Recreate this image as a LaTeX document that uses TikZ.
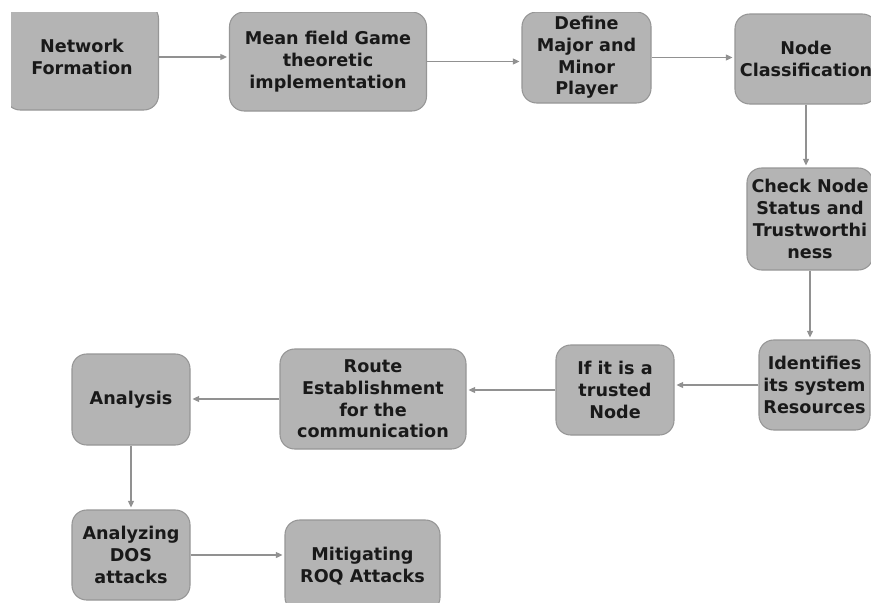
\documentclass[tikz,border=0pt]{standalone}
\usepackage{fontspec}
\setmainfont{DejaVu Sans}
\usetikzlibrary{arrows.meta}
\definecolor{BoxGray}{RGB}{180,180,180}
\definecolor{EdgeGray}{RGB}{150,150,150}
\definecolor{FlowGray}{RGB}{145,145,145}
\definecolor{InkGray}{RGB}{25,25,25}
\tikzset{
  stage/.style={draw=EdgeGray,fill=BoxGray,rounded corners=11pt,line width=0.8pt,
    inner sep=0pt,align=center,text=InkGray,
    font=\fontsize{13.2}{16.3}\selectfont\bfseries},
  flow/.style={draw=FlowGray,line width=1pt,shorten >=1.5pt,
    -{Triangle[length=5pt,width=4.5pt]}},
}

\begin{document}
\begin{tikzpicture}[x=0.75pt,y=-0.75pt]
\fill[white] (0,0) rectangle (871,603);
\clip (11,12) rectangle (871,603);
% top row
\node[stage,minimum width=114.75pt,minimum height=79.5pt] (netform) at (82,57) {Network\\Formation};
\node[stage,minimum width=147.75pt,minimum height=74.25pt] (meanfield) at (328,61.5) {Mean field Game\\theoretic\\implementation};
\node[stage,minimum width=96.75pt,minimum height=68.25pt] (define) at (586.5,57.5) {Define\\Major and\\Minor\\Player};
\node[stage,minimum width=106.5pt,minimum height=67.5pt] (nodeclass) at (806,59) {Node\\Classification};
% right column
\node[stage,minimum width=94.5pt,minimum height=76.5pt] (check) at (810,219) {Check Node\\Status and\\Trustworthi\\ness};
\node[stage,minimum width=83.25pt,minimum height=67.5pt] (ident) at (814.5,385) {Identifies\\its system\\Resources};
% middle row
\node[stage,minimum width=88.5pt,minimum height=67.5pt] (trusted) at (615,390) {If it is a\\trusted\\Node};
\node[stage,minimum width=139.5pt,minimum height=75pt] (route) at (373,399) {Route\\Establishment\\for the\\communication};
\node[stage,minimum width=88.5pt,minimum height=68.25pt] (analysis) at (131,399.5) {Analysis};
% bottom row
\node[stage,minimum width=88.5pt,minimum height=67.5pt] (dos) at (131,555) {Analyzing\\DOS\\attacks};
\node[stage,minimum width=116.25pt,minimum height=69pt] (mitig) at (362.5,566) {Mitigating\\ROQ Attacks};
% connectors
\draw[flow] (netform.east) -- (netform.east -| meanfield.west);
\draw[flow] (meanfield.east) -- (meanfield.east -| define.west);
\draw[flow] (define.east) -- (define.east -| nodeclass.west);
\draw[flow] (nodeclass.south) -- (nodeclass.south |- check.north);
\draw[flow] (check.south) -- (check.south |- ident.north);
\draw[flow] (ident.west) -- (ident.west -| trusted.east);
\draw[flow] (trusted.west) -- (trusted.west -| route.east);
\draw[flow] (route.west) -- (route.west -| analysis.east);
\draw[flow] (analysis.south) -- (dos.north);
\draw[flow] (dos.east) -- (dos.east -| mitig.west);
\end{tikzpicture}
\end{document}
